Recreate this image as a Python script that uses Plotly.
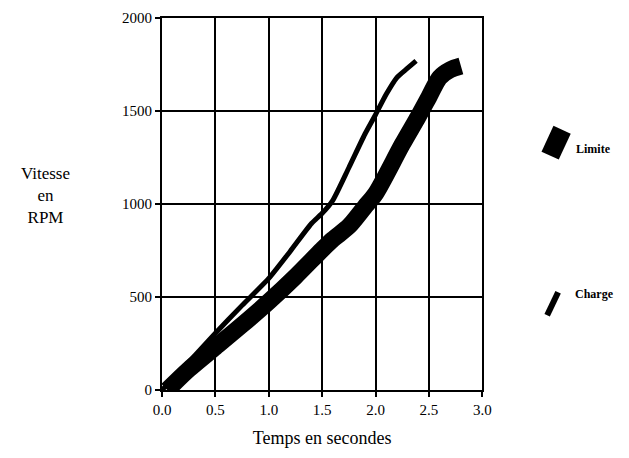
import plotly.graph_objects as go

# Data
charge_t = [0.0, 0.25, 0.5, 0.75, 1.0, 1.2, 1.4, 1.5, 1.6, 1.75, 1.9, 2.0, 2.1, 2.2, 2.3, 2.38]
charge_rpm = [0, 150, 305, 455, 600, 745, 895, 950, 1020, 1195, 1375, 1480, 1590, 1680, 1730, 1770]

limite_t = [0.05, 0.25, 0.5, 0.75, 1.0, 1.25, 1.5, 1.6, 1.75, 1.9, 2.0, 2.25, 2.4, 2.5, 2.6, 2.7, 2.8]
limite_rpm = [0, 110, 230, 350, 475, 610, 755, 810, 880, 985, 1055, 1320, 1470, 1575, 1680, 1722, 1742]

x_ticks = [0.0, 0.5, 1.0, 1.5, 2.0, 2.5, 3.0]
x_tick_text = ["0.0", "0.5", "1.0", "1.5", "2.0", "2.5", "3.0"]
y_ticks = [0, 500, 1000, 1500, 2000]
y_tick_text = ["0", "500", "1000", "1500", "2000"]

series_names = ["Limite", "Charge"]

FONT = "Liberation Serif"
W, H = 629, 458
L, R, T, B = 162, 10, 17, 68
PW = W - 8 - L - R   # effective rendered plot width
PH = H - T - B
plot_right_px = 483

def px_x(p):
    return (p - L) / PW

def px_y(p):
    return (H - B - p) / PH

fig = go.Figure()
fig.add_trace(go.Scatter(x=limite_t, y=limite_rpm, mode="lines", name=series_names[0],
                         line=dict(color="black", width=17, shape="spline", smoothing=0.8),
                         showlegend=False))
fig.add_trace(go.Scatter(x=charge_t, y=charge_rpm, mode="lines", name=series_names[1],
                         line=dict(color="black", width=5, shape="spline", smoothing=0.6),
                         showlegend=False))

# Legend glyphs (slanted strokes) on a helper axis measured in pixels
x2_left = 520
x2_right = L + PW
fig.add_trace(go.Scatter(x=[551, 563], y=[155, 129], mode="lines", xaxis="x2", yaxis="y2",
                         line=dict(color="black", width=19), showlegend=False, hoverinfo="skip"))
fig.add_trace(go.Scatter(x=[548, 559], y=[315, 292], mode="lines", xaxis="x2", yaxis="y2",
                         line=dict(color="black", width=6), showlegend=False, hoverinfo="skip"))

fig.update_layout(
    width=W, height=H,
    margin=dict(l=L, r=R, t=T, b=B),
    paper_bgcolor="white", plot_bgcolor="white",
    font=dict(family=FONT, color="black", size=14),
    xaxis=dict(domain=[0, px_x(plot_right_px)], range=[0, 3.0], tickvals=x_ticks, ticktext=x_tick_text,
               showgrid=True, gridcolor="black", gridwidth=1.5,
               showline=True, linecolor="black", linewidth=2, mirror=True,
               ticks="outside", ticklen=5, tickwidth=1.5, tickcolor="black",
               zeroline=False, tickfont=dict(size=15, family=FONT),
               title=dict(text="Temps en secondes", font=dict(size=18, family=FONT), standoff=14)),
    yaxis=dict(range=[0, 2000], tickvals=y_ticks, ticktext=y_tick_text,
               showgrid=True, gridcolor="black", gridwidth=1.5,
               showline=True, linecolor="black", linewidth=2, mirror=True,
               ticks="outside", ticklen=5, tickwidth=1.5, tickcolor="black",
               zeroline=False, tickfont=dict(size=15, family=FONT)),
    xaxis2=dict(domain=[px_x(x2_left), 1.0], range=[x2_left, x2_right], visible=False, anchor="y2"),
    yaxis2=dict(domain=[0, 1], range=[H - B, T], visible=False, anchor="x2"),
    annotations=[
        dict(text="Vitesse<br>en<br>RPM", xref="paper", yref="paper", x=px_x(45), y=px_y(195),
             showarrow=False, font=dict(size=17, family=FONT), align="center", xanchor="center"),
        dict(text="<b>Limite</b>", xref="paper", yref="paper", x=px_x(575), y=px_y(139),
             showarrow=False, font=dict(size=12, family=FONT), xanchor="left"),
        dict(text="<b>Charge</b>", xref="paper", yref="paper", x=px_x(574), y=px_y(303),
             showarrow=False, font=dict(size=12, family=FONT), xanchor="left"),
    ],
)

fig.write_html("out.html")
